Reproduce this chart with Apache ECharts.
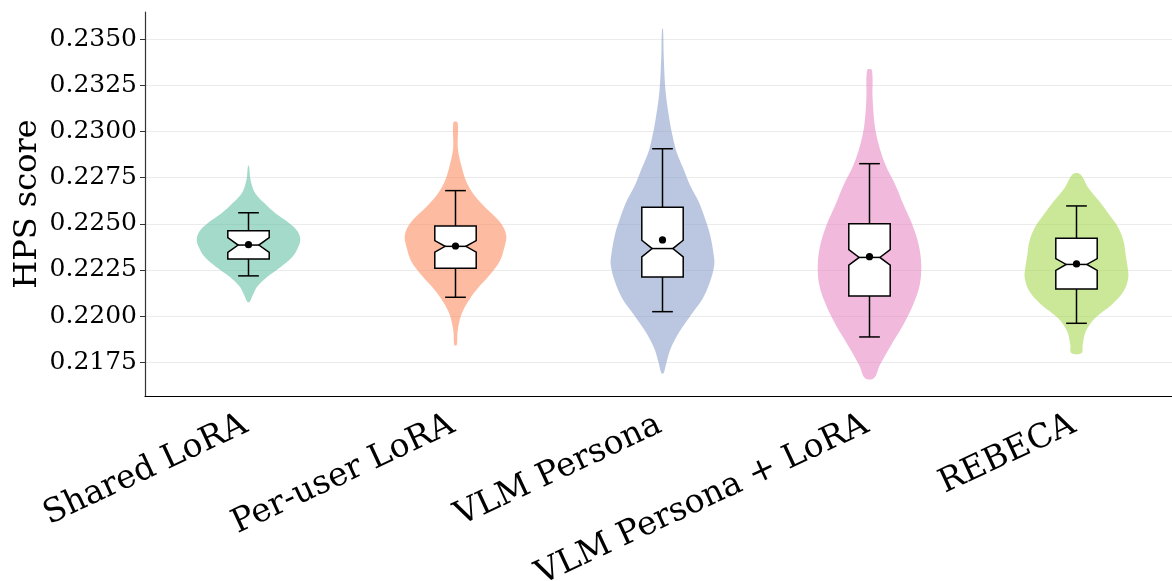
<!DOCTYPE html>
<html>
<head>
<meta charset="utf-8">
<title>HPS score by method</title>
<script src="https://cdn.jsdelivr.net/npm/echarts@6/dist/echarts.min.js"></script>
<style>
  html, body { margin: 0; padding: 0; background: #fff; }
  #chart { width: 1172px; height: 581px; }
</style>
</head>
<body>
<div id="chart"></div>
<script>
// Methods compared
const categories = ['Shared LoRA', 'Per-user LoRA', 'VLM Persona', 'VLM Persona + LoRA', 'REBECA'];

// Box-plot statistics per method
const whiskerLow  = [0.22218, 0.22102, 0.22024, 0.21887, 0.21961];
const q1          = [0.22310, 0.22259, 0.22212, 0.22109, 0.22147];
const median      = [0.22385, 0.22378, 0.22366, 0.22318, 0.22280];
const q3          = [0.22463, 0.22488, 0.22590, 0.22501, 0.22422];
const whiskerHigh = [0.22560, 0.22680, 0.22907, 0.22826, 0.22597];
const means       = [0.22387, 0.22380, 0.22413, 0.22322, 0.22283];
// half-height of the median notch (confidence interval)
const notchHalf   = [0.00040, 0.00031, 0.00045, 0.00042, 0.00032];

// Violin outlines: [score, relative density] from top to bottom
const violinShared = [
  [0.22814, 0.01], [0.22738, 0.04], [0.22666, 0.13], [0.22611, 0.31], [0.22557, 0.52],
  [0.22503, 0.79], [0.22458, 0.95], [0.22413, 1.00], [0.22368, 0.95], [0.22322, 0.85],
  [0.22268, 0.63], [0.22214, 0.37], [0.22160, 0.17], [0.22124, 0.10], [0.22077, 0.02]
];
const violinPerUser = [
  [0.23050, 0.04], [0.22909, 0.045], [0.22819, 0.11], [0.22728, 0.21], [0.22656, 0.36],
  [0.22584, 0.59], [0.22512, 0.85], [0.22440, 0.98], [0.22368, 0.94], [0.22295, 0.85],
  [0.22223, 0.66], [0.22151, 0.43], [0.22078, 0.24], [0.22006, 0.11], [0.21916, 0.04],
  [0.21844, 0.025]
];
const violinVlm = [
  [0.23556, 0.01], [0.23397, 0.025], [0.23216, 0.06], [0.23072, 0.13], [0.22981, 0.19],
  [0.22891, 0.27], [0.22801, 0.40], [0.22711, 0.53], [0.22620, 0.70], [0.22530, 0.82],
  [0.22440, 0.92], [0.22331, 0.99], [0.22277, 1.00], [0.22187, 0.92], [0.22097, 0.78],
  [0.22006, 0.55], [0.21916, 0.33], [0.21826, 0.16], [0.21753, 0.08], [0.21690, 0.02]
];
const violinVlmLora = [
  [0.23334, 0.045], [0.23180, 0.06], [0.23036, 0.10], [0.22927, 0.18], [0.22819, 0.31],
  [0.22711, 0.50], [0.22602, 0.66], [0.22494, 0.83], [0.22386, 0.95], [0.22277, 1.00],
  [0.22169, 0.97], [0.22060, 0.84], [0.21952, 0.65], [0.21844, 0.42], [0.21735, 0.20],
  [0.21663, 0.085]
];
const violinRebeca = [
  [0.22770, 0.07], [0.22694, 0.23], [0.22622, 0.44], [0.22550, 0.63], [0.22478, 0.81],
  [0.22406, 0.91], [0.22333, 0.95], [0.22261, 0.99], [0.22207, 1.00], [0.22135, 0.91],
  [0.22062, 0.68], [0.21990, 0.36], [0.21918, 0.18], [0.21845, 0.12], [0.21800, 0.10]
];
const violinProfiles = [violinShared, violinPerUser, violinVlm, violinVlmLora, violinRebeca];

// Y axis tick values and range
const yTicks = [0.2175, 0.2200, 0.2225, 0.2250, 0.2275, 0.2300, 0.2325, 0.2350];
const yMin = 0.21567;
const yMax = 0.23648;

const palette = ['#66c2a5', '#fc8d62', '#8da0cb', '#e78ac3', '#a6d854'];
const FONT = 'DejaVu Serif';

const VIOLIN_HALF = 0.25;  // widest violin half-width, in category bands
const BOX_HALF = 0.10;
const CAP_HALF = 0.05;

function renderViolin(params, api) {
  const i = api.value(0);
  const prof = violinProfiles[i];
  const band = api.size([1, 0])[0];
  const maxHalf = band * VIOLIN_HALF;
  const right = [], left = [];
  prof.forEach(function (pt) {
    const c = api.coord([i, pt[0]]);
    right.push([c[0] + pt[1] * maxHalf, c[1]]);
    left.push([c[0] - pt[1] * maxHalf, c[1]]);
  });
  return {
    type: 'polygon',
    shape: { points: right.concat(left.reverse()), smooth: 0.35 },
    style: { fill: palette[i], opacity: 0.6 }
  };
}

function renderBox(params, api) {
  const i = api.value(0);
  const band = api.size([1, 0])[0];
  const bh = band * BOX_HALF, ch = band * CAP_HALF;
  const x = api.coord([i, api.value(3)])[0];
  const y = function (v) { return api.coord([i, v])[1]; };
  const yLo = y(api.value(1)), yQ1 = y(api.value(2)), yMed = y(api.value(3));
  const yQ3 = y(api.value(4)), yHi = y(api.value(5)), yMean = y(api.value(6));
  const nh = api.value(7);
  const yNLo = y(api.value(3) - nh), yNHi = y(api.value(3) + nh);
  const line = { stroke: '#000', lineWidth: 1.5 };
  return {
    type: 'group',
    children: [
      { type: 'line', shape: { x1: x, y1: yQ3, x2: x, y2: yHi }, style: line },
      { type: 'line', shape: { x1: x, y1: yQ1, x2: x, y2: yLo }, style: line },
      { type: 'line', shape: { x1: x - ch, y1: yHi, x2: x + ch, y2: yHi }, style: line },
      { type: 'line', shape: { x1: x - ch, y1: yLo, x2: x + ch, y2: yLo }, style: line },
      {
        type: 'polygon',
        shape: {
          points: [
            [x - bh, yQ1], [x + bh, yQ1], [x + bh, yNLo], [x + bh / 2, yMed], [x + bh, yNHi],
            [x + bh, yQ3], [x - bh, yQ3], [x - bh, yNHi], [x - bh / 2, yMed], [x - bh, yNLo]
          ]
        },
        style: { fill: '#fff', stroke: '#000', lineWidth: 1.5 }
      },
      { type: 'line', shape: { x1: x - bh / 2, y1: yMed, x2: x + bh / 2, y2: yMed }, style: line },
      { type: 'circle', shape: { cx: x, cy: yMean, r: 3.6 }, style: { fill: '#000' } }
    ]
  };
}

const chart = echarts.init(document.getElementById('chart'), null, { renderer: 'canvas' });
chart.setOption({
  backgroundColor: '#fff',
  animation: false,
  grid: {
    left: 145, top: 12, right: -8, bottom: 185,
    containLabel: false, outerBoundsMode: 'none'
  },
  xAxis: {
    type: 'category',
    data: categories,
    boundaryGap: true,
    axisLine: { lineStyle: { color: '#000', width: 1.2 } },
    axisTick: { alignWithLabel: true, length: 5, lineStyle: { color: '#000' } },
    axisLabel: {
      interval: 0, rotate: 25, margin: 26, padding: [0, 3, 0, 0],
      fontFamily: FONT, fontSize: 33, color: '#000'
    },
    splitLine: { show: false }
  },
  yAxis: {
    type: 'value',
    min: yMin, max: yMax,
    name: 'HPS score',
    nameLocation: 'middle',
    nameGap: 101,
    nameMoveOverlap: false,
    nameTextStyle: { fontFamily: FONT, fontSize: 32, color: '#000' },
    axisLine: { show: true, lineStyle: { color: '#333', width: 1.2 } },
    axisTick: { show: true, length: 5, customValues: yTicks, lineStyle: { color: '#333' } },
    axisLabel: {
      customValues: yTicks, margin: 8,
      fontFamily: FONT, fontSize: 25, color: '#000',
      formatter: function (v) { return v.toFixed(4); }
    },
    splitLine: { show: true, lineStyle: { color: '#ebebeb', width: 1 } }
  },
  series: [
    {
      type: 'custom',
      name: 'violin',
      renderItem: renderViolin,
      data: violinProfiles.map(function (p, i) {
        const vals = p.map(function (d) { return d[0]; });
        return [i, Math.min.apply(null, vals), Math.max.apply(null, vals)];
      }),
      encode: { x: 0, y: [1, 2] },
      z: 2
    },
    {
      type: 'custom',
      name: 'box',
      renderItem: renderBox,
      data: categories.map(function (c, i) {
        return [i, whiskerLow[i], q1[i], median[i], q3[i], whiskerHigh[i], means[i], notchHalf[i]];
      }),
      encode: { x: 0, y: [1, 5] },
      z: 3
    }
  ]
});
</script>
</body>
</html>
